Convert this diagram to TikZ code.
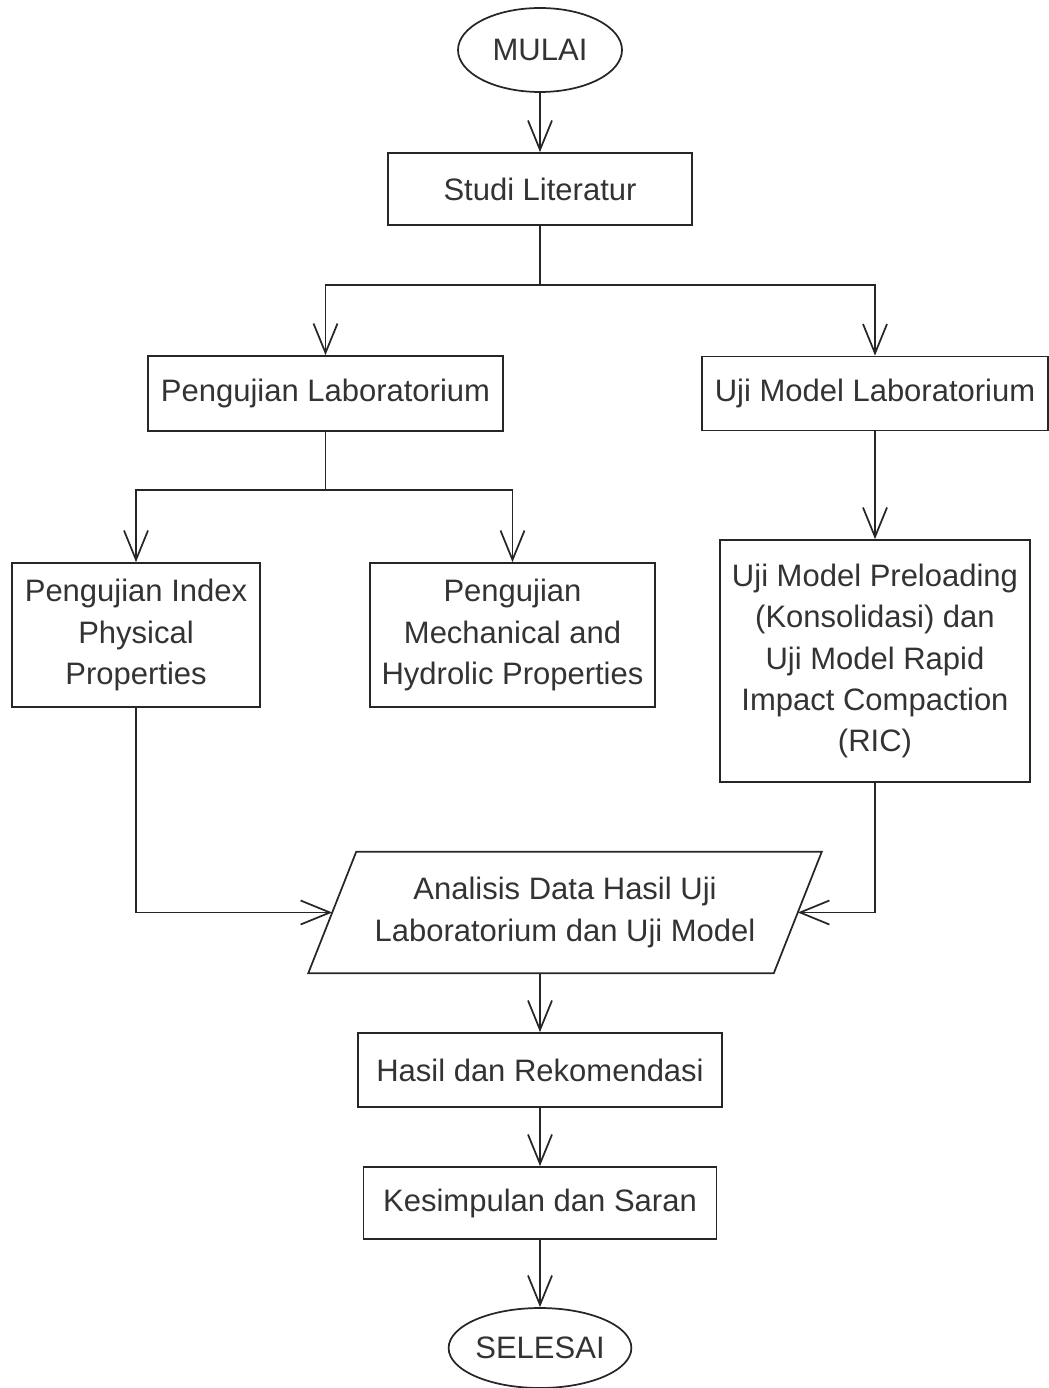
\documentclass[tikz,border=0pt]{standalone}
\usepackage{fontspec}
\setmainfont{Liberation Sans}
\usetikzlibrary{arrows.meta,shapes.geometric,calc}
\begin{document}
\begin{tikzpicture}[x=0.75pt,y=-0.75pt,
  every node/.style={font=\fontsize{23.25}{31.1}\selectfont, text=black!80, align=center, inner sep=0pt},
  box/.style={draw=black!85, line width=1.3pt, rectangle},
  term/.style={draw=black!85, line width=1.3pt, ellipse, minimum width=123pt, minimum height=63pt},
  arr/.style={draw=black!85, line width=1.3pt, -{Straight Barb[length=22pt,width=18pt,line width=1.3pt]}},
  ln/.style={draw=black!85, line width=1.3pt}]
\useasboundingbox (0,0) rectangle (1049,1388);
\node[term] (mulai) at (540,50) {MULAI};
\node[box, minimum width=228pt, minimum height=54pt] (studi) at (540,189) {Studi Literatur};
\node[box, minimum width=266.25pt, minimum height=56.25pt] (penglab) at (325.5,393.5) {Pengujian Laboratorium};
\node[box, minimum width=259.5pt, minimum height=55.5pt] (uji) at (875,393.5) {Uji Model Laboratorium};
\node[box, minimum width=186pt, minimum height=108pt] (index) at (136,635) {Pengujian Index\\Physical\\Properties};
\node[box, minimum width=213.75pt, minimum height=108pt] (mech) at (512.5,635) {Pengujian\\Mechanical and\\Hydrolic Properties};
\node[box, minimum width=232.5pt, minimum height=181.5pt] (pre) at (875,661) {Uji Model Preloading\\(Konsolidasi) dan\\Uji Model Rapid\\Impact Compaction\\(RIC)};
\node[minimum width=348.75pt, minimum height=90.75pt] (ana) at (565,912.5) {Analisis Data Hasil Uji\\Laboratorium dan Uji Model};
\draw[ln] ($(ana.north west)+(24,0)$) -- ($(ana.north east)+(24,0)$) -- ($(ana.south east)-(24,0)$) -- ($(ana.south west)-(24,0)$) -- cycle;
\node[box, minimum width=273pt, minimum height=55.5pt] (hasil) at (540,1070) {Hasil dan Rekomendasi};
\node[box, minimum width=264.75pt, minimum height=54pt] (kes) at (540,1203) {Kesimpulan dan Saran};
\node[term, minimum height=60pt] (selesai) at (540,1348) {SELESAI};
\coordinate (b1) at (540,285);
\coordinate (b2) at (325.5,490);
\draw[arr] (mulai.south) -- (studi.north);
\draw[ln] (studi.south) -- (b1);
\draw[arr] (b1) -| (penglab.north);
\draw[arr] (b1) -| (uji.north);
\draw[ln] (penglab.south) -- (b2);
\draw[arr] (b2) -| (index.north);
\draw[arr] (b2) -| (mech.north);
\draw[arr] (uji.south) -- (pre.north);
\draw[arr] (index.south) |- (ana.west);
\draw[arr] (pre.south) |- (ana.east);
\draw[arr] (hasil.north |- ana.south) -- (hasil.north);
\draw[arr] (hasil.south) -- (kes.north);
\draw[arr] (kes.south) -- (selesai.north);
\end{tikzpicture}
\end{document}
